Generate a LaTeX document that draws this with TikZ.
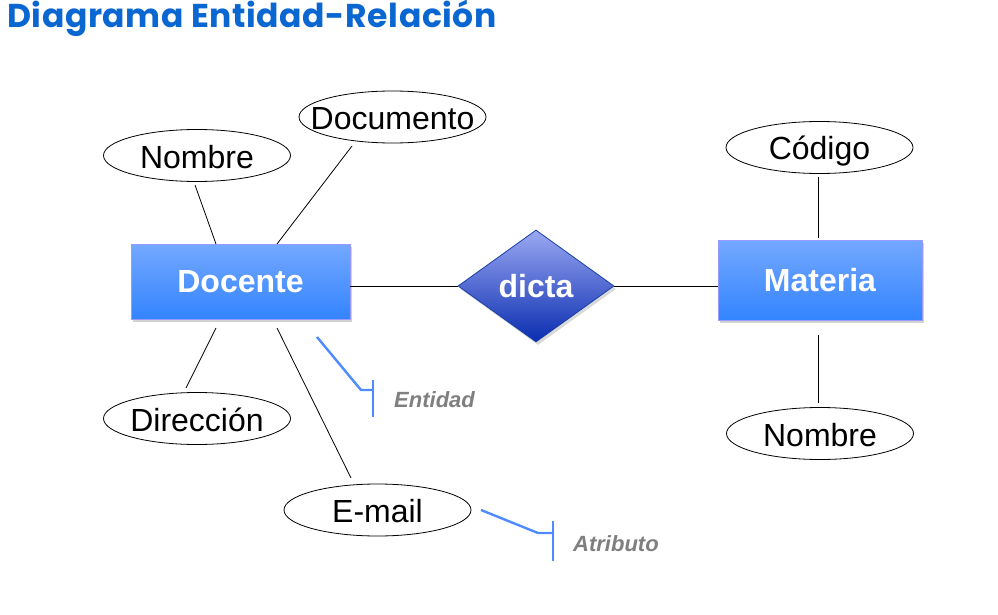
\documentclass[tikz,border=0pt]{standalone}
\usepackage{fontspec}
\setmainfont{Liberation Sans}
\newfontfamily\titlefont{Poppins}[UprightFont=* Bold, LetterSpace=1.8]
\usetikzlibrary{shapes.geometric,shadows}
\definecolor{titleblue}{HTML}{0A66D0}
\definecolor{calloutblue}{HTML}{4D8BFF}
\definecolor{calloutgray}{HTML}{7F7F7F}
\tikzset{
  entity/.style={rectangle, draw=blue!40!white, line width=0.8pt, top color={rgb,255:red,116;green,168;blue,255}, bottom color={rgb,255:red,51;green,132;blue,255}, text=white, font=\fontsize{32}{36}\selectfont\bfseries, inner sep=0pt, drop shadow={opacity=0.35, shadow xshift=2pt, shadow yshift=-3pt}},
  relation/.style={diamond, draw={rgb,255:red,26;green,63;blue,168}, line width=0.8pt, top color={rgb,255:red,155;green,168;blue,242}, bottom color={rgb,255:red,10;green,45;blue,176}, text=white, font=\fontsize{32}{36}\selectfont\bfseries, inner sep=0pt, aspect=1.39, drop shadow={opacity=0.3, shadow xshift=2pt, shadow yshift=-3pt}},
  attrib/.style={ellipse, draw=black, line width=0.8pt, fill=white, font=\fontsize{32}{36}\selectfont, inner xsep=-20pt, inner ysep=0pt, text height=25pt, text depth=0pt, minimum width=187pt, minimum height=52pt},
  conn/.style={draw=black, line width=0.8pt},
  callout/.style={draw=calloutblue, line width=2.4pt},
  calltext/.style={text=calloutgray, font=\fontsize{22}{26}\selectfont\bfseries\itshape}
}
\begin{document}
\begin{tikzpicture}[x=1pt,y=-1pt]
\useasboundingbox (0,0) rectangle (998,615);
% title
\node[anchor=west, text=titleblue, font=\titlefont\fontsize{33}{38}\selectfont, inner sep=0pt] (title) at (7,18) {Diagrama Entidad-Relación};
% entities
\node[entity, minimum width=219pt, minimum height=75pt] (docente) at (240.5,281.5) {Docente};
\node[entity, minimum width=204pt, minimum height=80pt] (materia) at (820,280) {Materia};
\node[relation, minimum width=156pt, minimum height=112pt] (dicta) at (536,286) {dicta};
% attributes
\node[attrib] (nombre1) at (197,155.5) {Nombre};
\node[attrib] (documento) at (392.5,117) {Documento};
\node[attrib] (direccion) at (197,418.5) {Dirección};
\node[attrib] (email) at (377.5,510) {E-mail};
\node[attrib] (codigo) at (819.5,147.5) {Código};
\node[attrib] (nombre2) at (820,433.5) {Nombre};
% connector end points
\coordinate (n1a) at (195,185);
\coordinate (n1b) at (216,244);
\coordinate (doa) at (352,146);
\coordinate (dob) at (277,244);
\coordinate (dia) at (216,328);
\coordinate (dib) at (186,388);
\coordinate (ema) at (277,328);
\coordinate (emb) at (351,478);
\coordinate (coa) at (818,177);
\coordinate (cob) at (818,238);
\coordinate (noa) at (818,335);
\coordinate (nob) at (818,403);
% connectors
\draw[conn] (n1a) -- (n1b);
\draw[conn] (doa) -- (dob);
\draw[conn] (dia) -- (dib);
\draw[conn] (ema) -- (emb);
\draw[conn] (docente.east |- 0,286) -- (dicta.west);
\draw[conn] (dicta.east) -- (materia.west |- 0,286);
\draw[conn] (coa) -- (cob);
\draw[conn] (noa) -- (nob);
% callouts
\coordinate (ea) at (317,337);
\coordinate (eb) at (361,390);
\coordinate (ec) at (373,390);
\coordinate (et) at (373,380);
\coordinate (eu) at (373,417);
\draw[callout] (ea) -- (eb) -- (ec);
\draw[callout] (et) -- (eu);
\node[calltext, anchor=west, inner sep=0pt] (entidad) at (394,400) {Entidad};
\coordinate (aa) at (481,510);
\coordinate (ab) at (538,533);
\coordinate (ac) at (553,533);
\coordinate (at) at (553,521);
\coordinate (au) at (553,561);
\draw[callout] (aa) -- (ab) -- (ac);
\draw[callout] (at) -- (au);
\node[calltext, anchor=west, inner sep=0pt] (atributo) at (573,544) {Atributo};
\end{tikzpicture}
\end{document}
